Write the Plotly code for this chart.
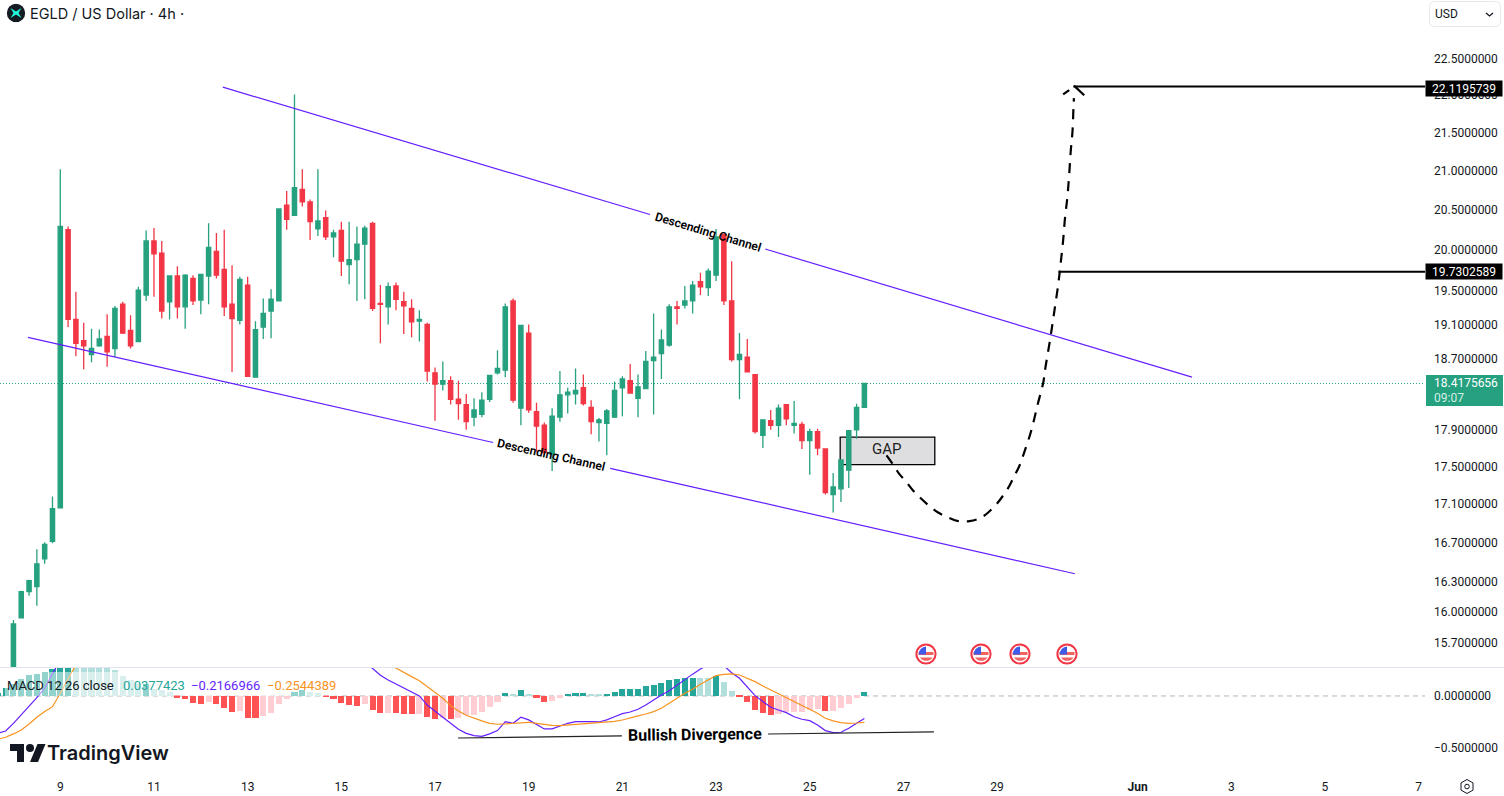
import base64
import numpy as np
import pandas as pd
import plotly.graph_objects as go

# 4h candles, first one is 8 May 00:00
opens = [15.15,15.94,16.20,16.25,16.53,16.71,17.06,20.25,19.16,18.91,
    18.75,18.85,18.96,18.82,19.34,19.03,18.90,19.45,20.11,19.96,
    19.37,19.68,19.31,19.65,19.39,19.68,19.98,19.76,19.34,19.15,
    19.57,18.49,19.07,19.26,19.38,20.56,20.43,20.76,20.60,20.26,
    20.40,20.16,20.24,19.82,19.88,20.07,20.33,19.35,19.31,19.56,
    19.37,19.29,19.14,19.10,18.54,18.41,18.45,18.24,18.18,18.04,
    18.07,18.24,18.54,18.57,19.38,18.14,19.00,18.10,17.95,17.63,
    18.04,18.29,18.30,18.37,18.15,17.98,17.97,18.04,18.37,18.45,
    18.25,18.36,18.68,18.76,18.86,19.31,19.33,19.38,19.61,19.54,
    19.69,20.19,19.38,18.69,18.72,18.52,17.84,18.00,17.95,18.18,
    17.95,17.96,17.78,17.88,17.69,17.20,17.26,17.46,17.90,18.15]
highs = [15.92,16.21,16.32,16.63,16.70,17.18,21.02,20.29,19.49,19.12,
    19.05,19.04,19.22,19.32,19.37,19.21,19.55,20.24,20.27,20.11,
    19.69,19.80,19.70,19.69,19.70,20.33,20.21,20.25,19.81,19.67,
    19.67,19.14,19.41,19.52,20.51,20.74,22.01,21.02,20.63,21.02,
    20.49,20.25,20.35,20.35,20.29,20.30,20.35,19.57,19.60,19.60,
    19.49,19.40,19.27,19.12,18.60,18.67,18.50,18.45,18.30,18.25,
    18.32,18.51,18.80,19.35,19.41,19.09,19.10,18.20,17.98,18.14,
    18.56,18.37,18.59,18.52,18.23,18.03,18.13,18.44,18.50,18.64,
    18.52,18.79,19.23,19.04,19.34,19.38,19.56,19.62,19.72,19.77,
    20.26,20.20,19.86,19.00,18.93,18.52,18.01,18.12,18.18,18.18,
    18.22,17.99,17.91,17.91,17.69,17.43,17.57,17.89,18.19,18.42]
lows = [15.05,15.94,16.16,16.06,16.48,16.69,17.06,19.07,18.73,18.58,
    18.66,18.84,18.61,18.72,18.99,18.82,18.90,19.38,19.43,19.17,
    19.16,19.17,19.05,19.33,19.22,19.34,19.65,19.20,18.55,19.10,
    18.50,18.49,18.93,18.94,19.38,20.25,20.43,20.54,20.12,20.17,
    20.12,19.91,19.68,19.58,19.38,19.40,19.26,18.88,19.10,19.27,
    18.99,18.95,18.90,18.44,18.00,18.34,18.18,18.01,17.90,17.94,
    18.04,18.21,18.52,18.49,18.20,17.95,18.09,17.66,17.63,17.45,
    17.99,18.08,18.18,18.17,17.85,17.77,17.62,18.03,18.05,18.31,
    18.04,18.36,18.07,18.47,18.84,19.10,19.29,19.23,19.45,19.44,
    19.62,19.33,18.67,18.24,18.55,17.86,17.70,17.90,17.82,17.95,
    17.86,17.69,17.41,17.62,17.20,17.01,17.12,17.27,17.80,18.15]
closes = [15.88,16.20,16.31,16.48,16.68,17.05,20.29,19.16,18.88,18.85,
    18.82,18.93,18.78,19.29,19.00,18.85,19.51,20.11,19.95,19.26,
    19.68,19.31,19.69,19.38,19.70,20.03,19.69,19.31,19.17,19.64,
    18.50,19.04,19.23,19.40,20.51,20.38,20.78,20.60,20.35,20.36,
    20.16,20.21,19.86,19.88,20.07,20.27,19.29,19.34,19.55,19.40,
    19.32,19.13,19.16,18.56,18.41,18.45,18.24,18.19,17.99,18.12,
    18.23,18.51,18.59,19.31,18.23,19.09,18.12,17.94,17.65,18.05,
    18.29,18.32,18.34,18.19,17.99,18.01,18.11,18.34,18.47,18.31,
    18.38,18.67,18.72,18.92,19.31,19.29,19.38,19.57,19.55,19.74,
    20.16,19.38,18.69,18.75,18.55,17.88,18.01,17.95,18.14,18.02,
    17.97,17.78,17.88,17.70,17.22,17.28,17.57,17.89,18.15,18.42]

# macd pane starts two bars earlier. None = line is off the top of the pane
hist = [.03,.077,.115,.163,.2,.21,.23,.26,.30,.32,.31,.30,.295,.29,.28,.25,.195,.154,.112,.115,
    .064,.058,.038,-.016,-.029,-.07,-.077,-.054,-.077,-.115,-.154,-.141,-.212,-.213,-.189,-.163,
    -.077,-.029,.038,.054,.038,.029,-.006,-.029,-.067,-.087,-.096,-.077,-.135,-.163,-.162,-.163,
    -.17,-.173,-.172,-.202,-.221,-.208,-.221,-.208,-.183,-.18,-.154,-.106,-.058,.032,.01,.058,
    .019,-.016,-.058,-.045,-.019,.01,.029,.03,.019,.018,.02,.038,.067,.068,.069,.096,.106,.125,
    .154,.163,.17,.176,.173,.172,.192,.135,.048,-.006,-.058,-.135,-.163,-.183,-.173,-.154,-.153,
    -.151,-.135,-.125,-.144,-.143,-.115,-.077,-.019,.038]
macd_line = [-.36,-.337,-.263,-.183,-.103,-.016,.074,.20,.35] + [None] * 38 + [.33,.266,.20,.154,.115,
    .074,.032,0,-.087,-.15,-.205,-.263,-.32,-.36,-.381,-.388,-.365,-.333,-.247,-.263,-.205,-.23,
    -.27,-.317,-.317,-.288,-.263,-.247,-.244,-.247,-.25,-.23,-.2,-.17,-.154,-.128,-.087,-.038,
    .01,.051,.106,.154,.21,.26,.30,.34,.29,.224,.17,.09,.003,-.054,-.109,-.135,-.16,-.2,-.224,
    -.237,-.279,-.333,-.353,-.349,-.311,-.263,-.217]
signal_line = [-.417,-.397,-.365,-.327,-.27,-.205,-.15,-.103,.026,.17,.30] + [None] * 39 + [.31,.266,
    .224,.186,.147,.09,.026,-.022,-.093,-.144,-.186,-.215,-.24,-.263,-.272,-.269,-.263,-.256,
    -.253,-.263,-.276,-.282,-.285,-.279,-.272,-.269,-.263,-.256,-.253,-.244,-.231,-.215,-.192,
    -.173,-.151,-.119,-.074,-.022,.026,.064,.112,.154,.196,.208,.212,.202,.17,.138,.096,.058,
    .019,-.022,-.058,-.093,-.128,-.167,-.215,-.24,-.256,-.263,-.26,-.254]

# drawings, days after 9 May / price
upper_days = [3.47, 12.59, None, 15.05, 24.16]
upper_prices = [22.11, 20.44, None, 20.01, 18.49]
lower_days = [-0.69, 9.24, None, 11.74, 21.66]
lower_prices = [18.95, 17.76, None, 17.48, 16.38]
path_days = [17.64,17.78,17.91,18.05,18.21,18.37,18.55,18.74,18.95,19.17,19.41,19.63,19.81,19.99,
    20.13,20.26,20.36,20.47,20.55,20.63,20.70,20.76,20.82,20.87,20.93,20.99,21.02,21.13,21.22,
    21.31,21.36,21.41,21.45,21.50,21.54,21.57,21.61,21.63,21.64]
path_prices = [17.62,17.52,17.42,17.34,17.24,17.16,17.08,17.01,16.96,16.92,16.92,16.95,17.01,17.10,
    17.19,17.29,17.39,17.50,17.61,17.73,17.84,17.95,18.08,18.19,18.31,18.44,18.56,18.92,19.25,
    19.60,19.85,20.12,20.40,20.66,20.96,21.24,21.52,21.83,21.96]
arrow_days = [21.41, 21.54, None, 21.64, 21.86]
arrow_prices = [22.01, 22.07, None, 22.13, 22.00]
div_days = [8.49, 11.99, None, 15.11, 18.65]
div_values = [-.404, -.384, None, -.366, -.346]

target_1 = 19.7302589
target_2 = 22.1195739
last_price = 18.4175656

price_ticks = [22.5,22,21.5,21,20.5,20,19.5,19.1,18.7,17.9,17.5,17.1,16.7,16.3,16,15.7]
date_ticks = ["2025-05-09","2025-05-11","2025-05-13","2025-05-15","2025-05-17","2025-05-19","2025-05-21",
    "2025-05-23","2025-05-25","2025-05-27","2025-05-29","2025-06-01","2025-06-03","2025-06-05","2025-06-07"]
date_labels = ["9","11","13","15","17","19","21","23","25","27","29","<b>Jun</b>","3","5","7"]
flag_px = [926, 981, 1020, 1067]

W, H = 1504, 796
GREEN = "#26A17F"
RED = "#F23645"
PURPLE = "#651FFF"
ORANGE = "#F7931E"
INK = "#131722"

def day(d):
    if d is None:
        return None
    return pd.Timestamp("2025-05-09") + pd.Timedelta(days=d)

def days(lst):
    return [day(d) for d in lst]

def px(x):
    return x / W

def py(y):
    return 1 - y / H

def svg(body, w, h):
    s = f'<svg xmlns="http://www.w3.org/2000/svg" width="{w}" height="{h}" viewBox="0 0 {w} {h}">{body}</svg>'
    return "data:image/svg+xml;base64," + base64.b64encode(s.encode()).decode()

def icon(body, x, y, w, h):
    return dict(source=svg(body, w, h), xref="paper", yref="paper", x=px(x), y=py(y), sizex=w / W, sizey=h / H,
                xanchor="left", yanchor="top", sizing="stretch", layer="above")

def note(text, x, y, size=12, color=INK, anchor="left", family="Roboto", **kw):
    return dict(text=text, xref="paper", yref="paper", x=px(x), y=py(y), xanchor=anchor, yanchor="middle",
                showarrow=False, font=dict(size=size, color=color, family=family), **kw)

times = pd.date_range("2025-05-07 16:00", periods=len(hist), freq="4h")
candle_times = times[2:]

# tv colouring, dark when the bar grows away from zero
bar_colors = []
for i, v in enumerate(hist):
    prev = hist[i - 1] if i else 0
    if v >= 0:
        bar_colors.append("#26A69A" if v >= prev else "#B2DFDB")
    else:
        bar_colors.append("#FF5252" if v < prev else "#FFCDD2")

fig = go.Figure()
fig.add_trace(go.Candlestick(x=candle_times, open=opens, high=highs, low=lows, close=closes,
    increasing=dict(line=dict(color=GREEN, width=1.3), fillcolor=GREEN),
    decreasing=dict(line=dict(color=RED, width=1.3), fillcolor=RED), whiskerwidth=0, yaxis="y"))
fig.add_trace(go.Scatter(x=days(upper_days), y=upper_prices, mode="lines", line=dict(color=PURPLE, width=1.2), yaxis="y"))
fig.add_trace(go.Scatter(x=days(lower_days), y=lower_prices, mode="lines", line=dict(color=PURPLE, width=1.2), yaxis="y"))
fig.add_trace(go.Scatter(x=days(path_days), y=path_prices, mode="lines",
    line=dict(color="black", width=2.2, dash="10px,8px", shape="spline"), yaxis="y"))
fig.add_trace(go.Scatter(x=days(arrow_days), y=arrow_prices, mode="lines", line=dict(color="black", width=2.2), yaxis="y"))
fig.add_trace(go.Scatter(x=days([21.31, 29.2]), y=[target_1, target_1], mode="lines", line=dict(color="black", width=2), yaxis="y"))
fig.add_trace(go.Scatter(x=days([21.63, 29.2]), y=[target_2, target_2], mode="lines", line=dict(color="black", width=2), yaxis="y"))

fig.add_trace(go.Bar(x=times, y=hist, marker=dict(color=bar_colors, line_width=0), width=4 * 3600 * 1000 * 0.78, yaxis="y2"))
fig.add_trace(go.Scatter(x=times, y=macd_line, mode="lines", line=dict(color=PURPLE, width=1.2), connectgaps=False, yaxis="y2"))
fig.add_trace(go.Scatter(x=times, y=signal_line, mode="lines", line=dict(color=ORANGE, width=1.2), connectgaps=False, yaxis="y2"))
fig.add_trace(go.Scatter(x=days(div_days), y=div_values, mode="lines", line=dict(color="#222222", width=1.2), yaxis="y2"))

shapes = [
    # last price
    dict(type="line", xref="paper", x0=0, x1=px(1425), yref="y", y0=last_price, y1=last_price,
         line=dict(color=GREEN, width=1, dash="1px,2px"), layer="below"),
    # zero line of macd
    dict(type="line", xref="paper", x0=0, x1=px(1425), yref="y2", y0=0, y1=0,
         line=dict(color="#B2B5BE", width=1, dash="5px,4px"), layer="below"),
    # gap box
    dict(type="rect", xref="x", yref="y", x0=day(16.65), x1=day(18.67), y0=17.52, y1=17.82,
         fillcolor="#DEDEE0", line=dict(color="black", width=1.3), layer="below"),
    # pane separator
    dict(type="line", xref="paper", yref="paper", x0=0, x1=1, y0=py(667.5), y1=py(667.5), line=dict(color="#E0E3EB", width=1)),
    # legend backdrop
    dict(type="rect", xref="paper", yref="paper", x0=px(5), x1=px(341), y0=py(672), y1=py(696),
         fillcolor="rgba(255,255,255,0.5)", line_width=0),
    # last price label
    dict(type="rect", xref="paper", yref="paper", x0=px(1426), x1=px(1503), y0=py(375), y1=py(406),
         fillcolor=GREEN, line_width=0),
]

annotations = [
    note("EGLD / US Dollar · 4h ·", 28, 13.5, size=14.5, family="Inter"),
    note("USD", 1433, 14, size=12),
    dict(text="Descending Channel", x=day(13.82), y=np.log10(20.22), xref="x", yref="y", showarrow=False,
         textangle=16.7, font=dict(size=12, color="black", family="Roboto", weight=600)),
    dict(text="Descending Channel", x=day(10.48), y=np.log10(17.62), xref="x", yref="y", showarrow=False,
         textangle=12.7, font=dict(size=12, color="black", family="Roboto", weight=600)),
    dict(text="GAP", x=day(17.64), y=np.log10(17.69), xref="x", yref="y", showarrow=False,
         font=dict(size=15, color="#222222", family="Roboto")),
    dict(text="Bullish Divergence", x=day(13.56), y=-.375, xref="x", yref="y2", showarrow=False,
         textangle=-0.7, font=dict(size=16, color="black", family="Roboto", weight=700)),
    note(f"{target_2:.7f}", 1464, 88, anchor="center", color="white", bgcolor="black", width=76, height=15, borderpad=0),
    note(f"{target_1:.7f}", 1464, 272, anchor="center", color="white", bgcolor="black", width=76, height=15, borderpad=0),
    note(f"{last_price:.7f}", 1432, 383, color="white"),
    note("09:07", 1432, 398, color="#D4EFE6"),
    note("MACD 12 26 close", 5, 685, size=13),
    note("<span style='color:#26A69A'>0.0377423</span>", 121, 685, size=13),
    note(f"<span style='color:{PURPLE}'>−0.2166966</span>", 189, 685, size=13),
    note(f"<span style='color:{ORANGE}'>−0.2544389</span>", 265, 685, size=13),
    dict(text="TradingView", xref="paper", yref="paper", x=px(45), y=py(752.5), xanchor="left", yanchor="middle",
         showarrow=False, font=dict(size=20, color="#131722", family="Inter", weight=600)),
]

flag = ('<circle cx="11" cy="11" r="9.6" fill="white" stroke="#F23645" stroke-width="2"/>'
        '<path d="M3.5 9h15v3h-15z M5 14.5h12.5a7.5 7.5 0 0 1-12.5 0z" fill="#F0635F"/>'
        '<path d="M3.8 11.5a7.5 7.5 0 0 1 7.2-8v8z" fill="#3F5BE8"/>')
images = [icon(flag, x - 11, 643, 22, 22) for x in flag_px]
images.append(icon('<circle cx="9.5" cy="9.5" r="9.2" fill="#161C24"/>'
                   '<path d="M4 4.5l5.5 3.6 5.5-3.6-3 5 3 5-5.5-3.6-5.5 3.6 3-5z" fill="#23F7DD"/>', 6.5, 3.5, 19, 19))
images.append(icon('<path d="M14 18H7V7H0V0h14zM28 18h-8l7.5-18h8z" fill="#131722"/><circle cx="20" cy="4" r="4" fill="#131722"/>',
                   10, 744, 36, 18))
images.append(icon('<rect x="0.5" y="0.5" width="71" height="25" rx="5" fill="white" stroke="#E6E8EE"/>'
                   '<path d="M57 12l3.5 3 3.5-3" fill="none" stroke="#131722" stroke-width="1.3"/>', 1429, 1, 72, 26))
images.append(icon('<path d="M8 1.5l6 3.4v7.2l-6 3.4-6-3.4V4.9z" fill="none" stroke="#131722" stroke-width="1"/>'
                   '<circle cx="8" cy="8.5" r="2.3" fill="none" stroke="#131722" stroke-width="1"/>', 1459, 778, 16, 17))
# the USD text has to sit on top of its button, images come in under annotations in layer above

fig.update_layout(
    width=W, height=H, margin=dict(l=0, r=0, t=0, b=0), showlegend=False, bargap=0, boxgap=0.22,
    paper_bgcolor="white", plot_bgcolor="white", hovermode=False,
    shapes=shapes, annotations=annotations, images=images,
    xaxis=dict(domain=[0, px(1425)], anchor="y2", type="date", range=[day(-1.287), day(29.135)],
               rangeslider=dict(visible=False), showgrid=False, zeroline=False, showline=False,
               tickvals=date_ticks, ticktext=date_labels, ticklen=0, ticklabelstandoff=8,
               tickfont=dict(size=12, color=INK, family="Roboto")),
    yaxis=dict(domain=[py(667.5), 1], anchor="x", side="right", type="log",
               range=[np.log10(15.46), np.log10(23.33)], showgrid=False, zeroline=False, showline=False,
               tickvals=price_ticks, ticktext=[f"{v:.7f}" for v in price_ticks], ticklen=0, ticklabelstandoff=8,
               tickfont=dict(size=12, color=INK, family="Roboto")),
    yaxis2=dict(domain=[py(770), py(668)], anchor="x", side="right", range=[-.712, .269], showgrid=False,
                zeroline=False, showline=False, tickvals=[0, -.5], ticktext=["0.0000000", "−0.5000000"],
                ticklen=0, ticklabelstandoff=8, tickfont=dict(size=12, color=INK, family="Roboto")),
)

fig.write_html("out.html", config=dict(displayModeBar=False),
               post_script="document.body.style.margin='0';document.body.style.overflow='hidden';")
